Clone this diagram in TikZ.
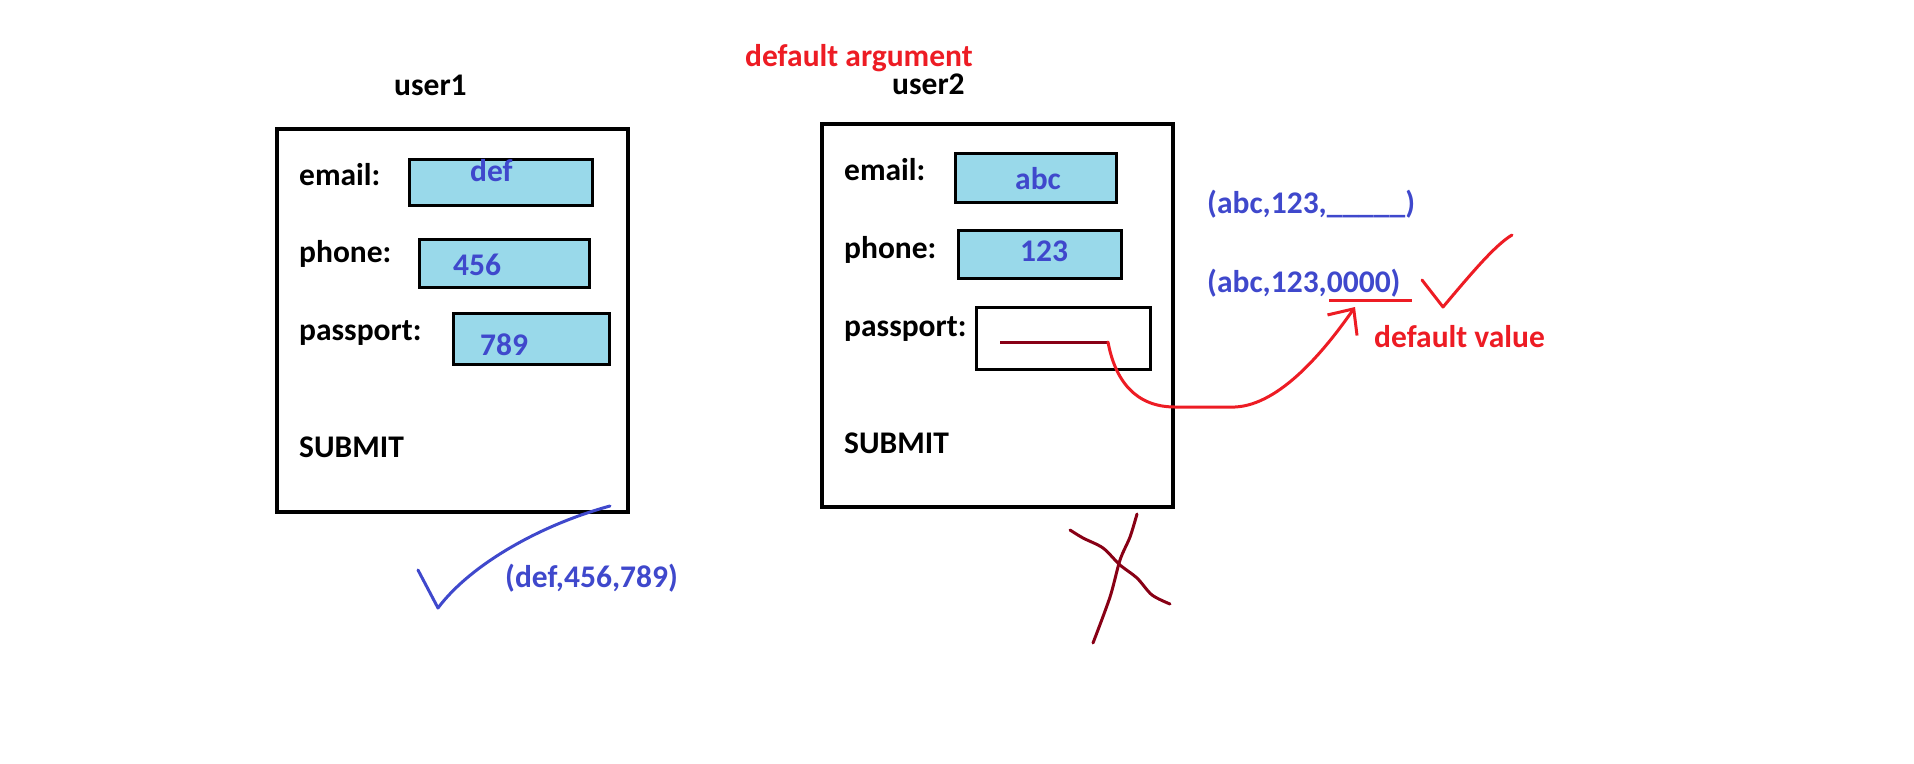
\documentclass[tikz,border=0pt]{standalone}
\usepackage{fontspec}
\setmainfont{Carlito}
\usetikzlibrary{arrows.meta}

\definecolor{fieldblue}{HTML}{99D9EA}
\definecolor{inkblue}{HTML}{3F48CC}
\definecolor{inkred}{HTML}{ED1C24}
\definecolor{inkdark}{HTML}{880015}

\tikzset{
	form/.style={draw, line width=3.5pt, inner sep=0pt, minimum width=351pt, minimum height=383pt},
	field/.style={draw, line width=3pt, fill=fieldblue, inner sep=0pt},
	txt/.style={anchor=base west, inner sep=0pt, font=\fontsize{31.5}{38}\selectfont\bfseries},
	val/.style={txt, text=inkblue},
	note/.style={txt, text=inkred},
	stroke/.style={line width=3pt, line cap=round, line join=round}
}

\begin{document}
\begin{tikzpicture}[x=1pt, y=-1pt]
	\useasboundingbox (0,0) rectangle (1914,763);

	% titles
	\node[note] (title) at (745,66) {default argument};
	\node[txt] (user1) at (394,95) {user1};
	\node[txt] (user2) at (892,94) {user2};

	% first form
	\node[form] (form1) at (452.5,320.5) {};
	\node[txt] (email1) at (299,185) {email:};
	\node[txt] (phone1) at (299,262) {phone:};
	\node[txt] (pass1) at (299,340) {passport:};
	\node[txt] (submit1) at (299,457) {SUBMIT};
	\node[field, minimum width=183pt, minimum height=46pt] (emailf1) at (500.5,182) {};
	\node[field, minimum width=170pt, minimum height=48pt] (phonef1) at (504,263) {};
	\node[field, minimum width=156pt, minimum height=51pt] (passf1) at (531,338.5) {};
	\node[val] (def) at (470,181) {def};
	\node[val] (v456) at (453,275) {456};
	\node[val] (v789) at (480,355) {789};

	% second form
	\node[form] (form2) at (997.5,315.5) {};
	\node[txt] (email2) at (844,180) {email:};
	\node[txt] (phone2) at (844,258) {phone:};
	\node[txt] (pass2) at (844,336) {passport:};
	\node[txt] (submit2) at (844,453) {SUBMIT};
	\node[field, minimum width=161pt, minimum height=49pt] (emailf2) at (1035.5,177.5) {};
	\node[field, minimum width=163pt, minimum height=48pt] (phonef2) at (1039.5,254) {};
	\node[field, fill=white, minimum width=174pt, minimum height=62pt] (passf2) at (1063,338) {};
	\node[val] (abc) at (1015,189) {abc};
	\node[val] (v123) at (1020,261) {123};

	% blank passport and its default
	\coordinate (blankL) at (1000,342);
	\coordinate (blankR) at (1108,342);
	\draw[stroke, inkdark, line cap=butt] (blankL) -- (blankR);

	\node[val] (call1) at (1207,213) {(abc,123,\_\_\_\_\_)};
	\node[val] (call2) at (1207,292) {(abc,123,0000)};
	\coordinate (ulL) at (1329,300);
	\coordinate (ulR) at (1412,300);
	\draw[stroke, inkred, line cap=butt] (ulL) -- (ulR);
	\coordinate (dvtip) at (1355,307);
	\node[note] (defval) at (1374,347) {default value};

	\draw[stroke, inkred, -{Straight Barb[length=20pt, width=36pt]}]
		(blankR) .. controls (1115,380) and (1135,407) .. (1175,407)
		-- (1235,407) .. controls (1280,405) and (1325,350) .. (dvtip);

	% ticks and cross
	\draw[stroke, inkred] (1422,280) -- (1443,307) .. controls (1470,275) and (1495,245) .. (1512,235);
	\draw[stroke, inkblue] (418,570) -- (438,608) .. controls (470,565) and (540,525) .. (610,506);
	\node[val] (call0) at (505,587) {(def,456,789)};

	\draw[stroke, inkdark] plot[smooth] coordinates {(1137,514) (1130,537) (1120,560) (1110,597) (1093,643)};
	\draw[stroke, inkdark] plot[smooth] coordinates {(1070,530) (1083,538) (1103,548) (1120,565) (1137,578) (1152,595) (1170,604)};
\end{tikzpicture}
\end{document}
